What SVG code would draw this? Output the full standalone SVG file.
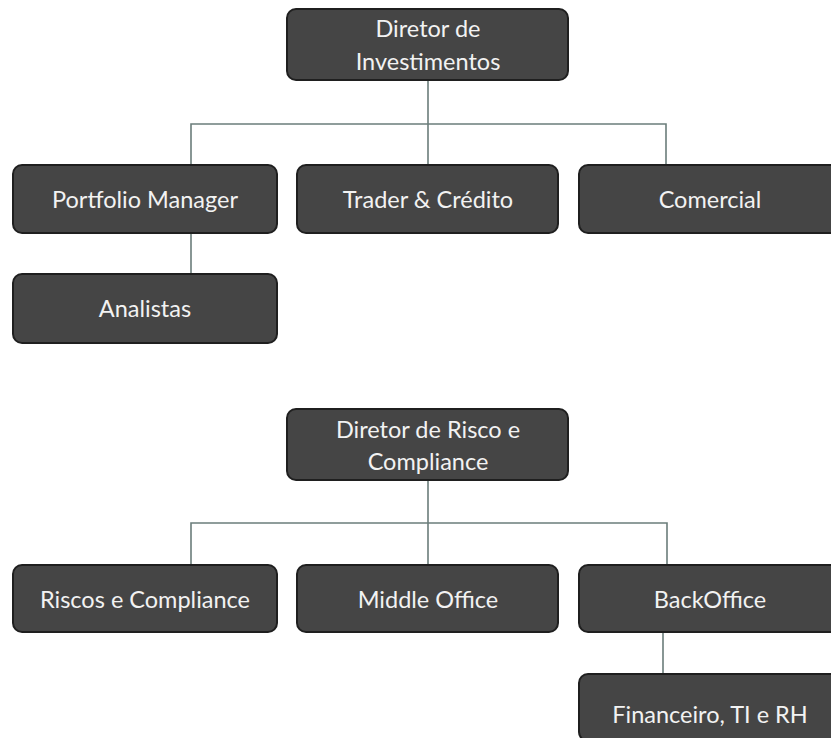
<svg xmlns="http://www.w3.org/2000/svg" width="831" height="738" viewBox="0 0 831 738">
<style>
.box{fill:#454545;stroke:#1f1f1f;stroke-width:2}
.t{font-family:Lato,"Open Sans",sans-serif;font-size:23.5px;fill:#f2f2f2;text-anchor:middle}
.c{fill:none;stroke:#6b7d7b;stroke-width:1.6}
</style>
<rect width="831" height="738" fill="#ffffff"/>
<g id="connectors">
<path class="c" d="M428 80V165M191 165V124H666V165M191 233V274"/>
<path class="c" d="M428 480V565M191 565V523H667V565M663 632V674"/>
</g>
<g id="n-dir-inv"><rect class="box" x="287" y="9" width="281" height="71" rx="9"/><text class="t" x="428" y="37">Diretor de</text><text class="t" x="428" y="70">Investimentos</text></g>
<g id="n-pm"><rect class="box" x="13" y="165" width="264" height="68" rx="9"/><text class="t" x="145" y="208">Portfolio Manager</text></g>
<g id="n-trader"><rect class="box" x="297" y="165" width="261" height="68" rx="9"/><text class="t" x="428" y="208">Trader &amp; Crédito</text></g>
<g id="n-comercial"><rect class="box" x="579" y="165" width="264" height="68" rx="9"/><text class="t" x="710" y="208">Comercial</text></g>
<g id="n-analistas"><rect class="box" x="13" y="274" width="264" height="69" rx="9"/><text class="t" x="145" y="317">Analistas</text></g>
<g id="n-dir-risco"><rect class="box" x="287" y="409" width="281" height="71" rx="9"/><text class="t" x="428" y="438">Diretor de Risco e</text><text class="t" x="428" y="470">Compliance</text></g>
<g id="n-riscos"><rect class="box" x="13" y="565" width="264" height="67" rx="9"/><text class="t" x="145" y="608">Riscos e Compliance</text></g>
<g id="n-middle"><rect class="box" x="297" y="565" width="261" height="67" rx="9"/><text class="t" x="428" y="608">Middle Office</text></g>
<g id="n-back"><rect class="box" x="579" y="565" width="264" height="67" rx="9"/><text class="t" x="710" y="608">BackOffice</text></g>
<g id="n-fin"><rect class="box" x="579" y="674" width="264" height="67" rx="9"/><text class="t" x="710" y="723">Financeiro, TI e RH</text></g>
</svg>
